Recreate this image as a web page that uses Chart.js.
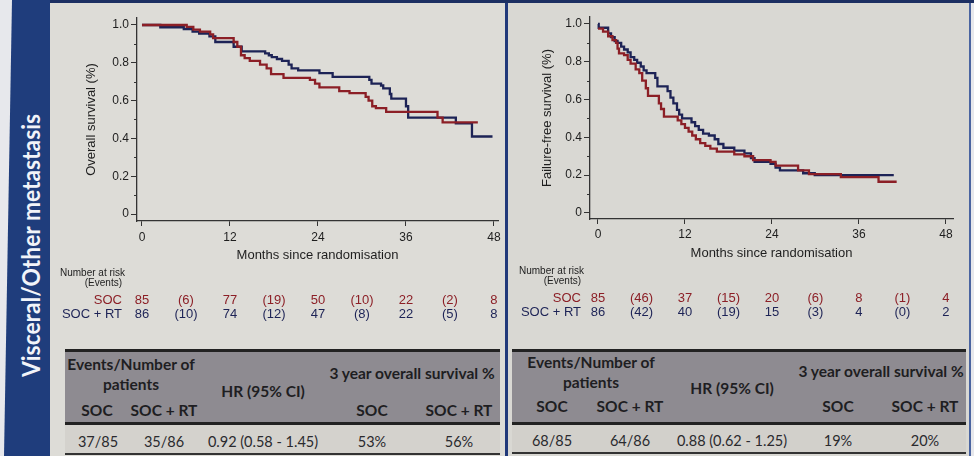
<!DOCTYPE html>
<html><head><meta charset="utf-8">
<script src="https://cdn.jsdelivr.net/npm/chart.js@4.4.0/dist/chart.umd.min.js"></script>
<style>
html,body{margin:0;padding:0;}
body{width:974px;height:456px;position:relative;overflow:hidden;background:#e7e8ec;font-family:"Liberation Sans",Arial,sans-serif;}
.abs{position:absolute;}
.c{position:absolute;transform:translate(-50%,-50%);white-space:nowrap;}
.r{position:absolute;transform:translate(-100%,-50%);white-space:nowrap;}
.l{position:absolute;transform:translate(0,-50%);white-space:nowrap;}
.th{font-family:Lato,"Open Sans",sans-serif;font-weight:bold;font-size:15.5px;color:#1e1e22;}
.td{font-family:Lato,"Open Sans",sans-serif;font-size:14.5px;color:#2a2a2e;}
.risk{font-size:13px;}
.nar{font-size:10px;color:#222;}
canvas{position:absolute;}
#vt{position:absolute;left:0;top:0;color:#f2f4f9;font-family:Lato,'Open Sans',sans-serif;font-weight:bold;font-size:24px;white-space:nowrap;}
</style>
</head><body>
<div class="abs" style="left:0;top:0;width:50px;height:456px;background:#1f3d7c;clip-path:polygon(12px 0,50px 0,50px 456px,4px 456px)"></div>
<div id="vt">Visceral/Other metastasis</div>
<div class="abs" style="left:50px;top:0;width:456px;height:456px;background:#dddcd7"></div>
<div class="abs" style="left:508px;top:0;width:462px;height:456px;background:#d9d8d3"></div>
<div class="abs" style="left:505px;top:0;width:3px;height:456px;background:#21397a"></div>
<div class="abs" style="left:969px;top:0;width:2px;height:456px;background:#4a64a0"></div>
<div class="abs" style="left:50px;top:0;width:924px;height:3px;background:#1c2f62"></div>

<!-- tables -->
<div class="abs" style="left:65px;top:349px;width:435px;height:70px;background:#8e8b91;border-top:3px solid #222;border-bottom:3px solid #222"></div>
<div class="abs" style="left:65px;top:425px;width:435px;height:28px;background:#d4d2cd;border-bottom:2px solid #333"></div>
<div class="abs" style="left:512px;top:349px;width:454px;height:70px;background:#8e8b91;border-top:3px solid #222;border-bottom:3px solid #222"></div>
<div class="abs" style="left:512px;top:425px;width:454px;height:27px;background:#d2d0cb;border-bottom:2px solid #333"></div>

<canvas id="osChart" width="453" height="265" style="left:52px;top:3px"></canvas>
<canvas id="ffsChart" width="460" height="265" style="left:510px;top:3px"></canvas>
<div id="overlay"></div>

<script>
// ---------- data ----------
const xTickValues = [0, 12, 24, 36, 48];
const yTickValues = [0, 0.2, 0.4, 0.6, 0.8, 1.0];
const yTickLabels = ['0', '0.2', '0.4', '0.6', '0.8', '1.0'];
const yMinorValues = [0.1, 0.3, 0.5, 0.7, 0.9];
const riskMonths = [0, 6, 12, 18, 24, 30, 36, 42, 48];

// Overall survival (months, survival)
const osSocT = [0, 6.1, 7.0, 7.9, 9.3, 9.7, 12.5, 13.0, 13.5, 14.0, 14.7, 16.1, 17.0, 17.6, 19.3, 22.9, 23.6, 24.2, 26.9, 28.3, 30.5, 30.9, 31.4, 31.9, 33.3, 40.3, 41.0, 45.8];
const osSocS = [1.0, 0.99, 0.975, 0.965, 0.95, 0.93, 0.91, 0.885, 0.84, 0.825, 0.81, 0.79, 0.77, 0.74, 0.72, 0.71, 0.69, 0.67, 0.65, 0.64, 0.62, 0.60, 0.57, 0.56, 0.54, 0.51, 0.485, 0.485];
const osRtT = [0, 2.5, 5.7, 6.9, 7.8, 9.2, 10.0, 12.5, 13.6, 16.8, 17.3, 17.7, 18.4, 19.1, 20.0, 20.4, 21.3, 24.2, 26.0, 31.0, 31.3, 32.6, 32.9, 33.8, 34.0, 36.0, 36.3, 42.8, 45.0, 47.8];
const osRtS = [1.0, 0.988, 0.978, 0.965, 0.955, 0.94, 0.91, 0.885, 0.86, 0.85, 0.84, 0.83, 0.82, 0.81, 0.79, 0.77, 0.76, 0.745, 0.725, 0.71, 0.69, 0.68, 0.665, 0.635, 0.61, 0.57, 0.51, 0.48, 0.41, 0.41];

// Failure-free survival (months, survival)
const ffsSocT = [0, 0.7, 1.4, 2.0, 2.5, 2.7, 2.9, 3.6, 4.1, 4.5, 5.2, 5.7, 6.1, 6.6, 6.9, 8.4, 8.7, 9.1, 11.0, 11.5, 12.0, 12.5, 13.0, 13.5, 14.1, 14.8, 15.5, 16.4, 18.8, 20.2, 21.4, 23.8, 24.5, 27.6, 29.1, 33.5, 38.7, 41.2];
const ffsSocS = [0.975, 0.96, 0.935, 0.915, 0.90, 0.87, 0.845, 0.835, 0.81, 0.79, 0.76, 0.74, 0.70, 0.66, 0.62, 0.58, 0.55, 0.51, 0.49, 0.47, 0.45, 0.43, 0.41, 0.39, 0.37, 0.355, 0.34, 0.325, 0.31, 0.30, 0.28, 0.27, 0.25, 0.225, 0.205, 0.19, 0.165, 0.165];
const ffsRtT = [0, 0.1, 1.4, 1.8, 2.3, 2.7, 3.2, 3.6, 4.1, 4.5, 5.0, 5.4, 5.9, 6.3, 6.7, 7.9, 8.2, 9.6, 10.0, 10.4, 10.9, 11.2, 11.6, 12.9, 13.4, 13.9, 14.5, 15.3, 16.1, 16.6, 17.3, 18.8, 20.2, 21.1, 21.6, 23.8, 24.5, 25.1, 28.3, 29.9, 40.8];
const ffsRtS = [1.0, 0.98, 0.95, 0.93, 0.91, 0.90, 0.88, 0.865, 0.85, 0.825, 0.81, 0.795, 0.775, 0.755, 0.74, 0.715, 0.67, 0.645, 0.61, 0.58, 0.545, 0.52, 0.50, 0.48, 0.46, 0.44, 0.42, 0.41, 0.39, 0.365, 0.345, 0.33, 0.315, 0.29, 0.27, 0.26, 0.24, 0.225, 0.21, 0.20, 0.20];

// Number at risk (events)
const osRiskSoc = ['85', '(6)', '77', '(19)', '50', '(10)', '22', '(2)', '8'];
const osRiskRt  = ['86', '(10)', '74', '(12)', '47', '(8)', '22', '(5)', '8'];
const ffsRiskSoc = ['85', '(46)', '37', '(15)', '20', '(6)', '8', '(1)', '4'];
const ffsRiskRt  = ['86', '(42)', '40', '(19)', '15', '(3)', '4', '(0)', '2'];

// Summary tables
const osTable  = ['37/85', '35/86', '0.92 (0.58 - 1.45)', '53%', '56%'];
const ffsTable = ['68/85', '64/86', '0.88 (0.62 - 1.25)', '19%', '20%'];

// ---------- drawing ----------
const RED = '#8c1f26';
const NAVY = '#1d2356';
const FONT = "'Liberation Sans', Arial, sans-serif";

// vertical section title
(function () {
  const vt = document.getElementById('vt');
  const w = vt.offsetWidth, h = vt.offsetHeight;
  const target = 263, sx = target / w;
  vt.style.left = (30 - w / 2) + 'px';
  vt.style.top = (245 - h / 2) + 'px';
  vt.style.transform = 'rotate(-90deg) scale(' + sx + ',1)';
})();

function km(t, s) { return t.map((v, i) => ({x: v, y: s[i]})); }

const minorTicks = {
  id: 'minorTicks',
  afterDraw(chart) {
    const y = chart.scales.y, ctx = chart.ctx;
    ctx.save();
    ctx.strokeStyle = '#333'; ctx.lineWidth = 1;
    yMinorValues.forEach(v => {
      const py = Math.round(y.getPixelForValue(v)) + 0.5;
      ctx.beginPath(); ctx.moveTo(chart.chartArea.left - 3, py); ctx.lineTo(chart.chartArea.left, py); ctx.stroke();
    });
    ctx.restore();
  }
};

function build(id, c) {
  return new Chart(document.getElementById(id), {
    type: 'line',
    data: {datasets: [
      {label: 'SOC', data: km(c.socT, c.socS), borderColor: RED, borderWidth: 2.3, stepped: true, pointRadius: 0, fill: false},
      {label: 'SOC + RT', data: km(c.rtT, c.rtS), borderColor: NAVY, borderWidth: 2.3, stepped: true, pointRadius: 0, fill: false}
    ]},
    options: {
      responsive: false, animation: false, devicePixelRatio: 1,
      layout: {padding: {left: 0, right: c.padR, top: c.padT, bottom: 0}},
      plugins: {legend: {display: false}, tooltip: {enabled: false}},
      scales: {
        x: {
          type: 'linear', min: c.xmin, max: c.xmax,
          afterBuildTicks: s => { s.ticks = xTickValues.map(v => ({value: v})); },
          ticks: {color: '#1e1e1e', font: {family: FONT, size: 12}, padding: c.xTickPad, maxRotation: 0, autoSkip: false},
          grid: {drawOnChartArea: false, drawTicks: true, tickLength: 5, color: '#333'},
          border: {display: true, color: '#333', width: 1.3},
          title: {display: true, text: 'Months since randomisation', color: '#1e1e1e', font: {family: FONT, size: 13}, padding: {top: 0, bottom: c.xTitlePad}},
          afterFit: s => { s.height = c.xH; }
        },
        y: {
          type: 'linear', min: c.ymin, max: c.ymax,
          afterBuildTicks: s => { s.ticks = yTickValues.map(v => ({value: v})); },
          ticks: {color: '#1e1e1e', font: {family: FONT, size: 12}, padding: 2, autoSkip: false,
                  callback: (v, i) => yTickLabels[i]},
          grid: {drawOnChartArea: false, drawTicks: true, tickLength: 6, color: '#333'},
          border: {display: true, color: '#333', width: 1.3},
          title: {display: true, text: c.yTitle, color: '#1e1e1e', font: {family: FONT, size: 13}, padding: {top: c.yTitlePad, bottom: 0}},
          afterFit: s => { s.width = c.yW; }
        }
      }
    },
    plugins: [minorTicks]
  });
}

const osChart = build('osChart', {
  socT: osSocT, socS: osSocS, rtT: osRtT, rtS: osRtS,
  xmin: -0.68, xmax: 48.55, ymin: -0.037, ymax: 1.037,
  padR: 7, padT: 15, xH: 47, yW: 85, xTickPad: 4, xTitlePad: 5, yTitlePad: 32,
  yTitle: 'Overall survival (%)'
});
const ffsChart = build('ffsChart', {
  socT: ffsSocT, socS: ffsSocS, rtT: ffsRtT, rtS: ffsRtS,
  xmin: -1.1, xmax: 48.97, ymin: -0.032, ymax: 1.037,
  padR: 17, padT: 14, xH: 49, yW: 80, xTickPad: 3, xTitlePad: 7, yTitlePad: 30,
  yTitle: 'Failure-free survival (%)'
});

const ov = document.getElementById('overlay');
function put(cls, x, y, text, style) {
  const d = document.createElement('div');
  d.className = cls; d.style.left = x + 'px'; d.style.top = y + 'px';
  if (style) d.style.cssText += style;
  d.textContent = text; ov.appendChild(d);
}

function riskTable(chart, offX, labelX, narY, yS, yR, socVals, rtVals) {
  put('l nar', labelX - 62, narY, 'Number at risk');
  put('r nar', labelX, narY + 10, '(Events)');
  put('r risk', labelX, yS, 'SOC', 'color:' + RED);
  put('r risk', labelX, yR, 'SOC + RT', 'color:' + NAVY);
  riskMonths.forEach((m, i) => {
    const px = offX + chart.scales.x.getPixelForValue(m);
    put('c risk', px, yS, socVals[i], 'color:' + RED);
    put('c risk', px, yR, rtVals[i], 'color:' + NAVY);
  });
}
riskTable(osChart, 52, 122, 272, 299, 313, osRiskSoc, osRiskRt);
riskTable(ffsChart, 510, 581, 270, 297, 311, ffsRiskSoc, ffsRiskRt);

function summary(cols, hdr, vals) {
  put('c th', cols.ev, hdr.ev1, 'Events/Number of');
  put('c th', cols.ev, hdr.ev2, 'patients');
  put('c th', cols.hr, hdr.hr, 'HR (95% CI)');
  put('c th', cols.surv, hdr.surv, '3 year overall survival %');
  put('c th', cols.c1, hdr.sub, 'SOC');
  put('c th', cols.c2, hdr.sub, 'SOC + RT');
  put('c th', cols.c4, hdr.sub, 'SOC');
  put('c th', cols.c5, hdr.sub, 'SOC + RT');
  const xs = [cols.c1d, cols.c2, cols.hr, cols.c4, cols.c5];
  vals.forEach((v, i) => put('c td', xs[i], hdr.data, v));
}
summary({ev: 131, hr: 263, surv: 412, c1: 97, c1d: 98, c2: 164, c4: 372, c5: 459},
        {ev1: 364, ev2: 384, hr: 391, surv: 373, sub: 410, data: 441}, osTable);
summary({ev: 591, hr: 732, surv: 881, c1: 552, c1d: 552, c2: 630, c4: 838, c5: 925},
        {ev1: 362, ev2: 382, hr: 388, surv: 371, sub: 406, data: 440}, ffsTable);
</script>
</body></html>
